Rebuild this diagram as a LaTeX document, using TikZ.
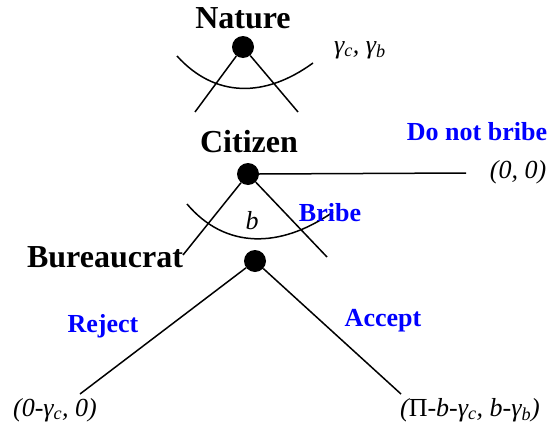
\documentclass[tikz,border=0pt]{standalone}
\usepackage{fontspec}
\setmainfont{Liberation Serif}
\tikzset{
  player/.style={font=\fontsize{32}{35}\selectfont\bfseries, inner sep=0pt},
  act/.style={font=\fontsize{26}{29}\selectfont\bfseries, text=blue, inner sep=0pt},
  pay/.style={font=\fontsize{26}{29}\selectfont\itshape, inner sep=0pt},
  dot/.style={circle, fill=black, inner sep=0pt, minimum size=22pt},
  edge/.style={line width=1.5pt},
}
\begin{document}
\begin{tikzpicture}[x=1pt,y=-1pt]
\useasboundingbox (0,0) rectangle (549,431);
% Nature
\node[player] (natl) at (243,18) {Nature};
\node[dot] (nat) at (243,47) {};
\coordinate (natL) at (195,112);
\coordinate (natR) at (298,112);
\draw[edge] (nat) -- (natL);
\draw[edge] (nat) -- (natR);
\coordinate (na1) at (177,56);
\coordinate (na2) at (313,63);
\draw[edge] (na1) .. controls (215,98) and (265,98) .. (na2);
\node[pay] (gam) at (360,50) {γ\textsubscript{c}, γ\textsubscript{b}};
% Citizen
\node[player] (citl) at (249,142) {Citizen};
\node[dot] (cit) at (248,174) {};
\coordinate (citR) at (466,173);
\draw[edge] (cit.east) -- (citR);
\node[act] (dnb) at (477,132) {Do not bribe};
\node[pay] (p00) at (518,172) {(0, 0)};
\coordinate (citBL) at (183,255);
\coordinate (citBR) at (327,257);
\draw[edge] (cit) -- (citBL);
\draw[edge] (cit) -- (citBR);
\coordinate (ca1) at (187,204);
\coordinate (ca2) at (333,212);
\draw[edge] (ca1) .. controls (225,249) and (280,249) .. (ca2);
\node[pay] (bl) at (252,221) {b};
\node[act] (bribe) at (330,213) {Bribe};
% Bureaucrat
\node[player] (burl) at (105,257) {Bureaucrat};
\node[dot] (bur) at (255,261) {};
\coordinate (burL) at (80,394);
\coordinate (burR) at (401,394);
\draw[edge] (bur) -- (burL);
\draw[edge] (bur) -- (burR);
\node[act] (rej) at (103,326) {Reject};
\node[act] (acc) at (383,321) {Accept};
\node[pay] (prej) at (55,410) {(0-γ\textsubscript{c}, 0)};
\node[pay] (pacc) at (470,410) {(\upshape Π\itshape-b-γ\textsubscript{c}, b-γ\textsubscript{b})};
\end{tikzpicture}
\end{document}
